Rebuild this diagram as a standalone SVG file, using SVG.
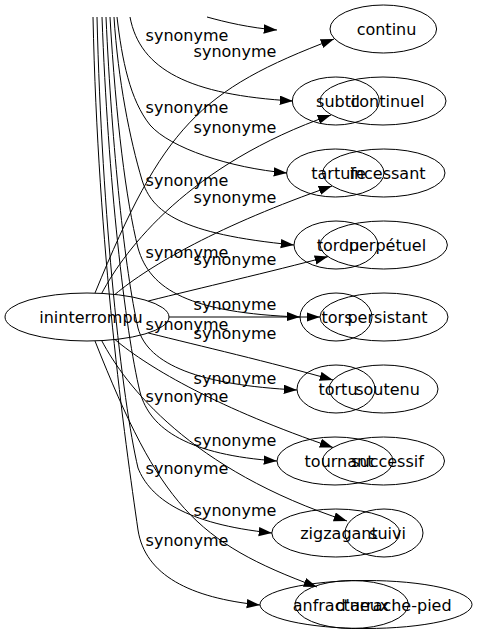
<svg xmlns="http://www.w3.org/2000/svg" width="479" height="635" viewBox="0 0 479 635">
<style>
  .n ellipse { fill: none; stroke: #000; stroke-width: 1; }
  .n text, .lbl text { font-family: "DejaVu Sans", "Noto Sans", sans-serif; font-size: 16px; fill: #000; text-anchor: middle; }
  #edges path { fill: none; stroke: #000; stroke-width: 1; marker-end: url(#arr); }
  #edges path.na { marker-end: none; }
</style>
<defs>
  <marker id="arr" markerUnits="userSpaceOnUse" markerWidth="14" markerHeight="10" refX="13.3" refY="4.67" orient="auto">
    <path d="M0,0 L13.3,4.67 L0,9.33 z" fill="#000"/>
  </marker>
</defs>
<rect width="479" height="635" fill="#fff"/>

<g id="edges">
  <!-- from ininterrompu -->
  <path d="M95,293 C163,127 199,90 334,39"/>
  <path d="M101.7,293.4 C125,249 190,164 331,115"/>
  <path d="M115,294.4 C150,265 220,225 332,186"/>
  <path d="M148.3,301 C200,288 270,272 328,256.6"/>
  <path d="M169,317 L320,317"/>
  <path d="M148.3,333 C200,346 270,362 333,380"/>
  <path d="M115,339.6 C150,369 220,409 333,447.5"/>
  <path d="M101.7,340.6 C125,385 190,470 347,521"/>
  <path d="M95,341 C160,505 195,542 317,587"/>
  <!-- from the source above the picture -->
  <path d="M207,17 C225,22 250,28 277,30"/>
  <path d="M130,17 C140,70 190,95 293,101"/>
  <path d="M117,17 C122,60 130,100 150,125 C170,148 230,168 287,173"/>
  <path d="M114,17 C118,80 130,140 142,180 C152,212 180,234 294,245"/>
  <path d="M110,17 C116,120 126,200 138,248 C150,290 190,313 300,317"/>
  <path d="M106,17 C112,150 125,270 138,328 C148,365 200,385 297,390"/>
  <path d="M102,17 C108,180 125,330 140,392 C150,430 190,455 277,461"/>
  <path d="M97,17 C102,220 122,400 138,468 C150,498 185,524 272,533"/>
  <path d="M93,17 C98,250 125,440 138,530 C145,575 190,598 260,605"/>
</g>

<g class="lbl" id="labels">
  <text x="187" y="41">synonyme</text>
  <text x="187" y="113">synonyme</text>
  <text x="187" y="186">synonyme</text>
  <text x="187" y="258">synonyme</text>
  <text x="187" y="330">synonyme</text>
  <text x="187" y="402">synonyme</text>
  <text x="187" y="474">synonyme</text>
  <text x="187" y="546">synonyme</text>
  <text x="235" y="57">synonyme</text>
  <text x="235" y="132.5">synonyme</text>
  <text x="235" y="202.5">synonyme</text>
  <text x="235" y="264.5">synonyme</text>
  <text x="235" y="309.5">synonyme</text>
  <text x="235" y="338.5">synonyme</text>
  <text x="235" y="383.5">synonyme</text>
  <text x="235" y="446">synonyme</text>
  <text x="235" y="516">synonyme</text>
</g>

<g class="n" id="ininterrompu"><ellipse cx="87" cy="317" rx="82" ry="24"/><text x="91" y="322.5">ininterrompu</text></g>

<g class="n" id="continu"><ellipse cx="383.3" cy="29" rx="53.3" ry="24"/><text x="386.5" y="34.5">continu</text></g>
<g class="n" id="continuel"><ellipse cx="383" cy="101" rx="63" ry="24"/><text x="387.5" y="106.5">continuel</text></g>
<g class="n" id="incessant"><ellipse cx="383.8" cy="173" rx="61.2" ry="24"/><text x="387.5" y="178.5">incessant</text></g>
<g class="n" id="perpetuel"><ellipse cx="383.7" cy="245" rx="63.7" ry="24"/><text x="387.5" y="250.5">perpétuel</text></g>
<g class="n" id="persistant"><ellipse cx="384" cy="317" rx="64" ry="24"/><text x="387.5" y="322.5">persistant</text></g>
<g class="n" id="soutenu"><ellipse cx="383.5" cy="389" rx="54.5" ry="24"/><text x="387.5" y="394.5">soutenu</text></g>
<g class="n" id="successif"><ellipse cx="383.5" cy="461" rx="61" ry="24"/><text x="387.5" y="466.5">successif</text></g>
<g class="n" id="suivi"><ellipse cx="384" cy="533" rx="39" ry="24"/><text x="387.5" y="538.5">suivi</text></g>
<g class="n" id="darrache-pied"><ellipse cx="351.7" cy="604.5" rx="56.7" ry="24"/><text x="393.5" y="610.5">d'arrache-pied</text></g>

<g class="n" id="subtil"><ellipse cx="335.8" cy="101" rx="43.5" ry="24"/><text x="338" y="106.5">subtil</text></g>
<g class="n" id="tartufe"><ellipse cx="335.3" cy="173" rx="48.7" ry="24"/><text x="338.5" y="178.5">tartufe</text></g>
<g class="n" id="tordu"><ellipse cx="336" cy="245" rx="42" ry="24"/><text x="338" y="250.5">tordu</text></g>
<g class="n" id="tors"><ellipse cx="336" cy="317" rx="36" ry="24"/><text x="337" y="322.5">tors</text></g>
<g class="n" id="tortu"><ellipse cx="336" cy="389" rx="39" ry="24"/><text x="338" y="394.5">tortu</text></g>
<g class="n" id="tournant"><ellipse cx="335" cy="461" rx="58" ry="24"/><text x="339" y="466.5">tournant</text></g>
<g class="n" id="zigzagant"><ellipse cx="335.8" cy="533" rx="64" ry="24"/><text x="339" y="538.5">zigzagant</text></g>
<g class="n" id="anfractueux"><ellipse cx="366" cy="604.5" rx="106" ry="24"/><text x="341" y="610.5">anfractueux</text></g>
</svg>
